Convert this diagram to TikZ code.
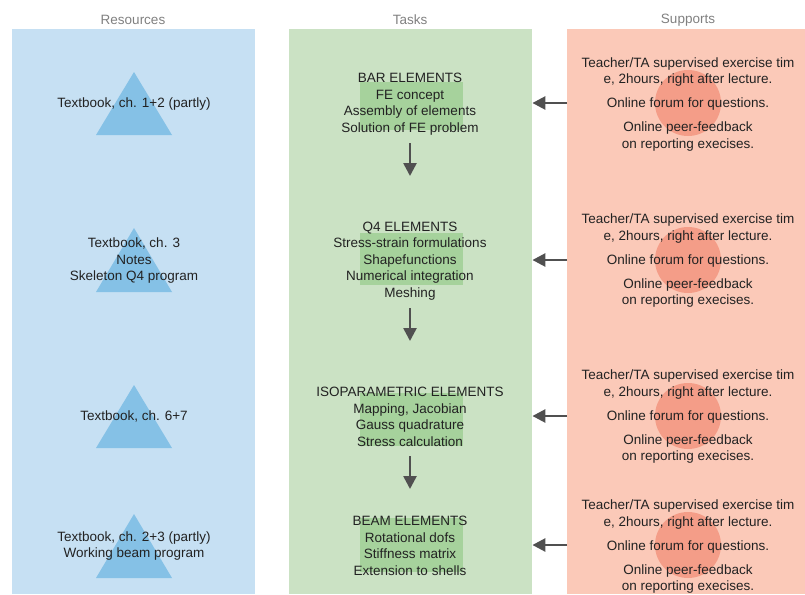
\documentclass[tikz,border=0pt]{standalone}
\usepackage{fontspec}
\setmainfont{Liberation Sans}
\usetikzlibrary{arrows.meta}
\definecolor{resbg}{RGB}{198,224,243}
\definecolor{tri}{RGB}{133,193,230}
\definecolor{tskbg}{RGB}{203,226,196}
\definecolor{grn}{RGB}{166,210,156}
\definecolor{supbg}{RGB}{251,201,184}
\definecolor{circc}{RGB}{244,157,136}
\definecolor{hdrc}{RGB}{128,128,128}
\definecolor{txtc}{RGB}{34,34,34}
\definecolor{arrc}{RGB}{80,80,80}
\begin{document}
\begin{tikzpicture}[x=1pt,y=-1pt,
  panel/.style={anchor=north west, inner sep=0pt, minimum height=565pt},
  txt/.style={align=center, font=\fontsize{13.5}{16.5}\selectfont, text=txtc, inner sep=0pt},
  hdr/.style={font=\fontsize{13.5}{16.5}\selectfont, text=hdrc, inner sep=0pt},
  blob/.style={circle, fill=circc, minimum size=66pt, inner sep=0pt},
  gbox/.style={fill=grn},
  arr/.style={draw=arrc, line width=2.6pt, -{Triangle[length=13pt,width=13pt]}}]
\useasboundingbox (0,0) rectangle (805,594);
% panels
\node[panel, fill=resbg, minimum width=243pt] (res) at (12,29) {};
\node[panel, fill=tskbg, minimum width=243pt] (tsk) at (289,29) {};
\node[panel, fill=supbg, minimum width=238pt] (sup) at (567,29) {};
% headers
\node[hdr] (hres) at (133,20) {Resources};
\node[hdr] (htsk) at (410,20) {Tasks};
\node[hdr] (hsup) at (688,20) {Supports};
% triangles
\fill[tri] (96,135) -- (134,72) -- (172,135) -- cycle;
\fill[tri] (96,292) -- (134,228) -- (172,292) -- cycle;
\fill[tri] (96,448) -- (134,385) -- (172,448) -- cycle;
\fill[tri] (96,578) -- (134,514) -- (172,578) -- cycle;
% green boxes
\fill[gbox] (360,82) rectangle (463,130);
\fill[gbox] (360,233) rectangle (463,285);
\fill[gbox] (360,393) rectangle (463,446);
\fill[gbox] (360,518) rectangle (463,572);
% circles
\node[blob] (c1) at (688,103) {};
\node[blob] (c2) at (688,260) {};
\node[blob] (c3) at (688,416) {};
\node[blob] (c4) at (688,545) {};
% resources text
\node[txt] (r1) at (134,104) {Textbook, ch. 1+2 (partly)};
\node[txt] (r2) at (134,261) {Textbook, ch. 3\\Notes\\Skeleton Q4 program};
\node[txt] (r3) at (134,416) {Textbook, ch. 6+7};
\node[txt] (r4) at (134,546) {Textbook, ch. 2+3 (partly)\\Working beam program};
% tasks text
\node[txt] (t1) at (410,104) {BAR ELEMENTS\\FE concept\\Assembly of elements\\Solution of FE problem};
\node[txt] (t2) at (410,261) {Q4 ELEMENTS\\Stress-strain formulations\\Shapefunctions\\Numerical integration\\Meshing};
\node[txt] (t3) at (410,417) {ISOPARAMETRIC ELEMENTS\\Mapping, Jacobian\\Gauss quadrature\\Stress calculation};
\node[txt] (t4) at (410,546) {BEAM ELEMENTS\\Rotational dofs\\Stiffness matrix\\Extension to shells};
% supports text
\foreach \i/\y in {1/104.5,2/261,3/417,4/547}{
  \node[txt] (s\i) at (688,\y) {Teacher/TA supervised exercise tim\\e, 2hours, right after lecture.\\[7.5pt]Online forum for questions.\\[7.5pt]Online peer-feedback\\on reporting execises.};
}
% horizontal arrows
\foreach \i in {1,2,3,4}{
  \draw[arr] (sup.west |- c\i) -- (tsk.east |- c\i);
}
% down arrows
\coordinate (d1a) at (410,143); \coordinate (d1b) at (410,176);
\coordinate (d2a) at (410,308); \coordinate (d2b) at (410,341);
\coordinate (d3a) at (410,456); \coordinate (d3b) at (410,489);
\draw[arr] (d1a) -- (d1b);
\draw[arr] (d2a) -- (d2b);
\draw[arr] (d3a) -- (d3b);
\end{tikzpicture}
\end{document}
